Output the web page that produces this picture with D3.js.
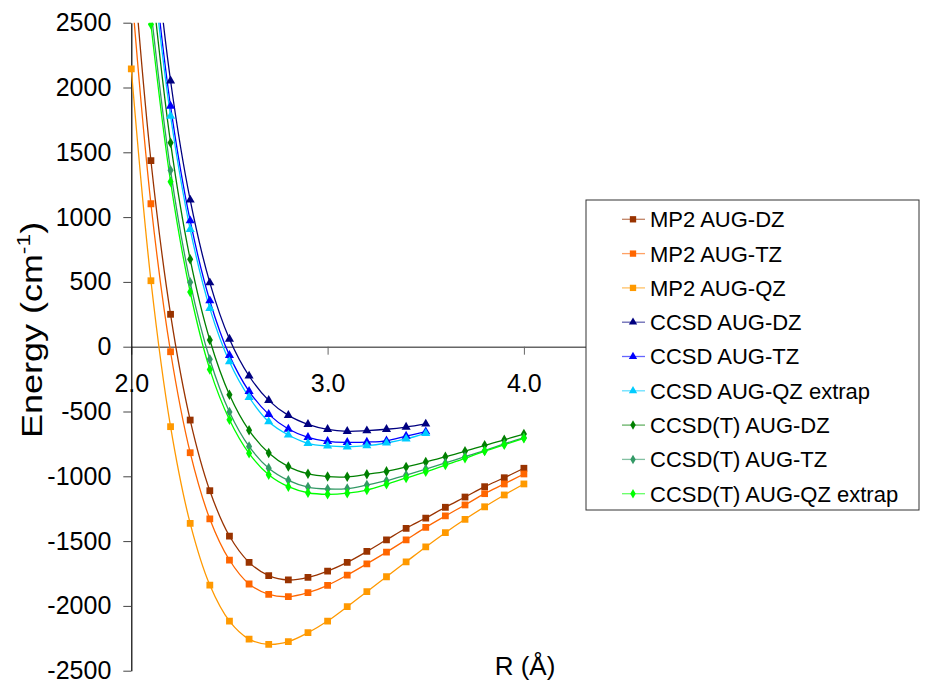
<!DOCTYPE html>
<html>
<head>
<meta charset="utf-8">
<script src="https://cdn.jsdelivr.net/npm/d3@7"></script>
<style>
  body { margin: 0; background: white; }
  text { font-family: "Liberation Sans", Arial, sans-serif; }
</style>
</head>
<body>
<div id="vis"></div>
<script>
// bond length grids (Å)
const rMP2 = [2.0, 2.1, 2.2, 2.3, 2.4, 2.5, 2.6, 2.7, 2.8, 2.9, 3.0, 3.1, 3.2, 3.3, 3.4, 3.5, 3.6, 3.7, 3.8, 3.9, 4.0];
const rCCSD = [2.1, 2.2, 2.3, 2.4, 2.5, 2.6, 2.7, 2.8, 2.9, 3.0, 3.1, 3.2, 3.3, 3.4, 3.5];
const rCCSDT = [2.1, 2.2, 2.3, 2.4, 2.5, 2.6, 2.7, 2.8, 2.9, 3.0, 3.1, 3.2, 3.3, 3.4, 3.5, 3.6, 3.7, 3.8, 3.9, 4.0];

// energies (cm-1)
const mp2DZ = [3150, 1435, 250, -566, -1111, -1461, -1664, -1767, -1800, -1780, -1731, -1664, -1580, -1490, -1401, -1322, -1239, -1160, -1080, -1011, -938];
const mp2TZ = [2780, 1103, -39, -818, -1329, -1646, -1831, -1911, -1929, -1898, -1841, -1762, -1675, -1585, -1490, -1394, -1306, -1221, -1134, -1059, -982];
const mp2QZ = [2143, 509, -617, -1363, -1839, -2117, -2256, -2297, -2276, -2207, -2117, -2006, -1890, -1775, -1660, -1545, -1435, -1332, -1235, -1144, -1059];
const ccsdDZ = [3380, 2052, 1132, 494, 59, -226, -414, -530, -599, -638, -653, -648, -637, -620, -596];
const ccsdTZ = [3137, 1857, 972, 355, -67, -344, -522, -635, -699, -730, -738, -736, -726, -690, -656];
const ccsdQZ = [3030, 1780, 906, 296, -116, -390, -579, -681, -745, -766, -772, -764, -743, -712, -669];
const ccsdtDZ = [2874, 1574, 674, 52, -370, -645, -820, -925, -980, -1002, -1004, -985, -962, -928, -890, -849, -807, -761, -718, -674];
const ccsdtTZ = [2600, 1361, 497, -97, -504, -770, -937, -1031, -1083, -1098, -1095, -1067, -1034, -990, -944, -897, -849, -802, -750, -702];
const ccsdtQZ = [2488, 1273, 422, -175, -563, -823, -988, -1080, -1127, -1139, -1130, -1106, -1062, -1013, -965, -913, -861, -805, -757, -707];

const seriesNames = ['MP2 AUG-DZ', 'MP2 AUG-TZ', 'MP2 AUG-QZ', 'CCSD AUG-DZ', 'CCSD AUG-TZ', 'CCSD AUG-QZ extrap',
  'CCSD(T) AUG-DZ', 'CCSD(T) AUG-TZ', 'CCSD(T) AUG-QZ extrap'];
const seriesColors = ['#993300', '#ff6600', '#ff9900', '#000080', '#0000ff', '#00ccff', '#008000', '#339966', '#00ff00'];
const xTicks = [2, 3, 4];
const yTicks = [-2500, -2000, -1500, -1000, -500, 0, 500, 1000, 1500, 2000, 2500];

const series = [
  { r: rMP2, e: mp2DZ, sym: d3.symbolSquare },
  { r: rMP2, e: mp2TZ, sym: d3.symbolSquare },
  { r: rMP2, e: mp2QZ, sym: d3.symbolSquare },
  { r: rCCSD, e: ccsdDZ, sym: d3.symbolTriangle },
  { r: rCCSD, e: ccsdTZ, sym: d3.symbolTriangle },
  { r: rCCSD, e: ccsdQZ, sym: d3.symbolTriangle },
  { r: rCCSDT, e: ccsdtDZ, sym: d3.symbolDiamond },
  { r: rCCSDT, e: ccsdtTZ, sym: d3.symbolDiamond },
  { r: rCCSDT, e: ccsdtQZ, sym: d3.symbolDiamond }
].map((s, i) => ({ ...s, name: seriesNames[i], color: seriesColors[i],
  pts: s.r.map((r, j) => [r, s.e[j]]) }));

const W = 928, H = 682;
const x = d3.scaleLinear().domain([2, 5]).range([131.3, 720.2]);
const y = d3.scaleLinear().domain([-2500, 2500]).range([670.7, 22.7]);

const svg = d3.select('#vis').append('svg')
  .attr('width', W).attr('height', H)
  .style('background-color', 'white');

svg.append('clipPath').attr('id', 'plot')
  .append('rect').attr('x', 125).attr('y', 22.7).attr('width', 800).attr('height', 648);

// x axis crosses at 0
const xAxis = svg.append('g')
  .attr('transform', `translate(0,${y(0)})`)
  .call(d3.axisBottom(x).tickValues(xTicks).tickFormat(d3.format('.1f')).tickSize(8).tickPadding(20).tickSizeOuter(0));
xAxis.select('.domain').attr('stroke', '#666').attr('stroke-width', 1.5);
xAxis.selectAll('.tick line').attr('stroke', '#666');
xAxis.selectAll('text').attr('font-size', 25).attr('fill', '#000')
  .style('font-family', '"Liberation Sans", Arial, sans-serif');

const yAxis = svg.append('g')
  .attr('transform', `translate(${x(2)},0)`)
  .call(d3.axisLeft(y).tickValues(yTicks).tickFormat(d => String(d)).tickSize(8).tickPadding(12).tickSizeOuter(0));
yAxis.select('.domain').attr('stroke', '#000').attr('stroke-width', 1.2);
yAxis.selectAll('.tick line').attr('stroke', '#444');
yAxis.selectAll('text').attr('font-size', 25).attr('fill', '#000')
  .style('font-family', '"Liberation Sans", Arial, sans-serif');

// curves
const line = d3.line().x(d => x(d[0])).y(d => y(d[1])).curve(d3.curveCatmullRom.alpha(0.5));
const plot = svg.append('g').attr('clip-path', 'url(#plot)');

series.forEach(s => {
  plot.append('path')
    .attr('d', line(s.pts))
    .attr('fill', 'none')
    .attr('stroke', s.color)
    .attr('stroke-width', 1.3);
});
series.forEach(s => {
  const size = s.sym === d3.symbolSquare ? 46 : (s.sym === d3.symbolTriangle ? 36 : 32);
  plot.selectAll(null).data(s.pts).join('path')
    .attr('transform', d => `translate(${x(d[0])},${y(d[1])})`)
    .attr('d', d3.symbol(s.sym, size))
    .attr('fill', s.color);
});

// axis titles
const yt = svg.append('text')
  .attr('transform', 'translate(42,330) rotate(-90) scale(1.2,1)')
  .attr('text-anchor', 'middle')
  .attr('font-size', 30);
yt.append('tspan').text('Energy (cm');
yt.append('tspan').attr('font-size', 19).attr('dy', -12).text('-1');
yt.append('tspan').attr('dy', 12).text(')');

svg.append('text')
  .attr('x', 525).attr('y', 675)
  .attr('text-anchor', 'middle')
  .attr('font-size', 26)
  .text('R (Å)');

// legend
const lg = svg.append('g');
lg.append('rect')
  .attr('x', 586).attr('y', 200).attr('width', 333).attr('height', 310)
  .attr('fill', 'white').attr('stroke', '#333').attr('stroke-width', 1);

series.forEach((s, i) => {
  const cy = 219.3 + i * 34.3;
  lg.append('line').attr('x1', 622).attr('x2', 645).attr('y1', cy).attr('y2', cy)
    .attr('stroke', s.color).attr('stroke-width', 1.3).attr('opacity', 0.6);
  const size = s.sym === d3.symbolSquare ? 40 : (s.sym === d3.symbolTriangle ? 30 : 26);
  lg.append('path').attr('transform', `translate(633,${cy})`)
    .attr('d', d3.symbol(s.sym, size)).attr('fill', s.color);
  lg.append('text').attr('x', 650).attr('y', cy).attr('dy', '0.36em')
    .attr('font-size', 22).text(s.name);
});
</script>
</body>
</html>
